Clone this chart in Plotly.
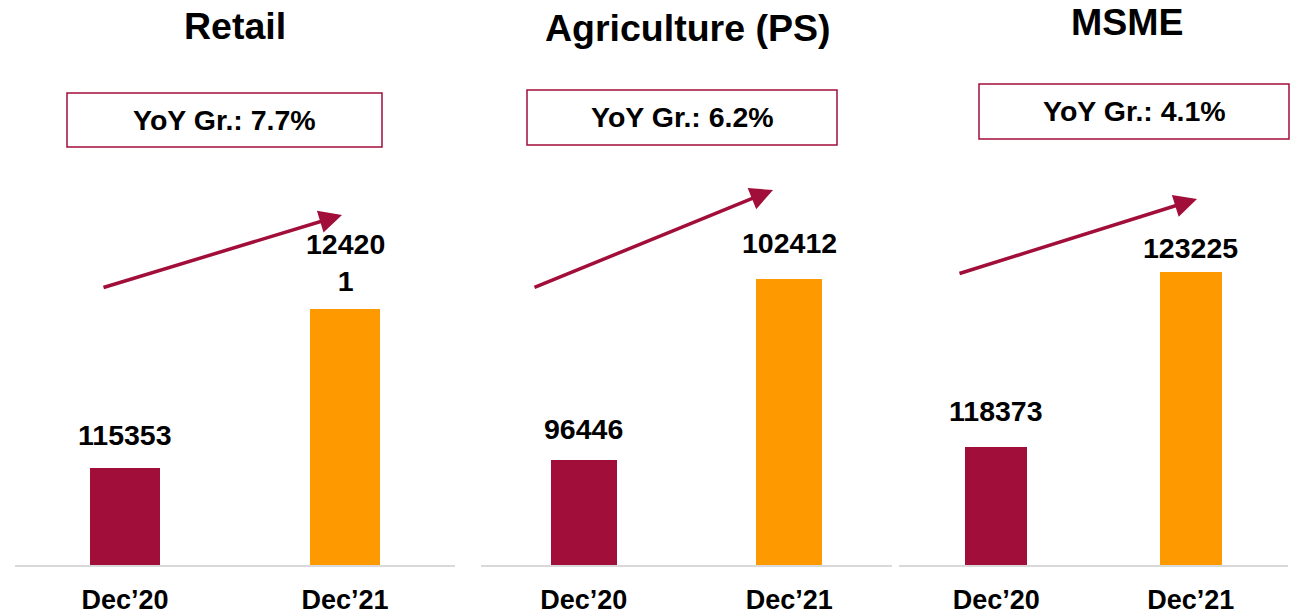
import plotly.graph_objects as go
from plotly.subplots import make_subplots

# data
segments = ["Retail", "Agriculture (PS)", "MSME"]
periods = ["Dec’20", "Dec’21"]
dec20 = [115353, 96446, 118373]
dec21 = [124201, 102412, 123225]
yoy_growth = ["7.7%", "6.2%", "4.1%"]

# value axis does not start at zero in the original
y_ranges = [[110000, 129400], [93000, 104500], [115100, 124800]]

W, H = 1299, 615
FONT = "Liberation Sans, Arial, sans-serif"
BAR_COLORS = ["#A20E3A", "#FF9900"]
ACCENT = "#A20E3A"


def px(x):
    return x / W


def py(y):
    return 1 - y / H


# panel geometry in pixels: (left, right) of the baseline
panel_x = [(15, 455), (481, 892), (899, 1288)]
plot_top, plot_bottom = 215, 565
title_pos = [(235, 26), (687, 28), (1127, 22)]
yoy_boxes = [(67, 93, 382, 147), (527, 90, 837, 145), (979, 84, 1289, 139)]
# arrows: (start_x, start_y, tip_x, tip_y)
arrows = [(102, 288, 342, 215), (533, 288, 773, 190), (958, 274, 1197, 199)]
label_shift = [[15, 10], [13, 18], [18, 6]]
label_wrap = [[None, 5], [None, None], [None, None]]

fig = make_subplots(rows=1, cols=3)

annotations = []
shapes = []
for i, seg in enumerate(segments):
    values = [dec20[i], dec21[i]]
    fig.add_trace(
        go.Bar(
            x=periods,
            y=values,
            marker=dict(color=BAR_COLORS, line=dict(width=0)),
            width=0.32,
            showlegend=False,
            hoverinfo="x+y",
        ),
        row=1,
        col=i + 1,
    )
    ax_id = "" if i == 0 else str(i + 1)
    left, right = panel_x[i]
    fig.update_layout(
        {
            f"xaxis{ax_id}": dict(
                domain=[px(left), px(right)],
                range=[-0.5, 1.5],
                showline=True,
                linecolor="#D9D9D9",
                linewidth=2,
                showgrid=False,
                zeroline=False,
                ticks="outside",
                ticklen=10,
                tickcolor="rgba(0,0,0,0)",
                tickfont=dict(family=FONT, size=27, color="#000000", weight="bold"),
                fixedrange=True,
            ),
            f"yaxis{ax_id}": dict(
                domain=[py(plot_bottom), py(plot_top)],
                range=y_ranges[i],
                visible=False,
                fixedrange=True,
            ),
        }
    )

    # value labels above the bars
    for j, v in enumerate(values):
        text = str(v)
        wrap = label_wrap[i][j]
        if wrap:
            text = text[:wrap] + "<br>" + text[wrap:]
        annotations.append(
            dict(
                x=periods[j],
                y=v,
                xref=f"x{ax_id}",
                yref=f"y{ax_id}",
                text=f"<b>{text}</b>",
                showarrow=False,
                yanchor="bottom",
                yshift=label_shift[i][j],
                font=dict(family=FONT, size=28.5, color="#000000"),
            )
        )

    # panel title
    tx, ty = title_pos[i]
    annotations.append(
        dict(
            x=px(tx),
            y=py(ty),
            xref="paper",
            yref="paper",
            text=f"<b>{seg}</b>",
            showarrow=False,
            xanchor="center",
            yanchor="middle",
            font=dict(family=FONT, size=37.5, color="#000000"),
        )
    )

    # YoY growth box
    x0, y0, x1, y1 = yoy_boxes[i]
    shapes.append(
        dict(
            type="rect",
            xref="paper",
            yref="paper",
            x0=px(x0),
            x1=px(x1),
            y0=py(y1),
            y1=py(y0),
            line=dict(color=ACCENT, width=1.5),
            fillcolor="rgba(0,0,0,0)",
        )
    )
    annotations.append(
        dict(
            x=px((x0 + x1) / 2),
            y=py((y0 + y1) / 2),
            xref="paper",
            yref="paper",
            text=f"<b>YoY Gr.: {yoy_growth[i]}</b>",
            showarrow=False,
            xanchor="center",
            yanchor="middle",
            font=dict(family=FONT, size=28.5, color="#000000"),
        )
    )

    # trend arrow
    sx, sy, ex, ey = arrows[i]
    annotations.append(
        dict(
            x=px(ex),
            y=py(ey),
            xref="paper",
            yref="paper",
            ax=sx - ex,
            ay=sy - ey,
            axref="pixel",
            ayref="pixel",
            text="",
            showarrow=True,
            arrowhead=2,
            arrowsize=1.3,
            arrowwidth=3.5,
            arrowcolor=ACCENT,
            standoff=0,
        )
    )

fig.update_layout(
    width=W,
    height=H,
    margin=dict(l=0, r=0, t=0, b=0),
    paper_bgcolor="#FFFFFF",
    plot_bgcolor="#FFFFFF",
    annotations=annotations,
    shapes=shapes,
    bargap=0,
)

# drop the page's default body margin so the figure fills the window
fig.write_html(
    "out.html",
    config={"displayModeBar": False},
    post_script="document.body.style.margin='0';document.body.style.overflow='hidden';",
)
